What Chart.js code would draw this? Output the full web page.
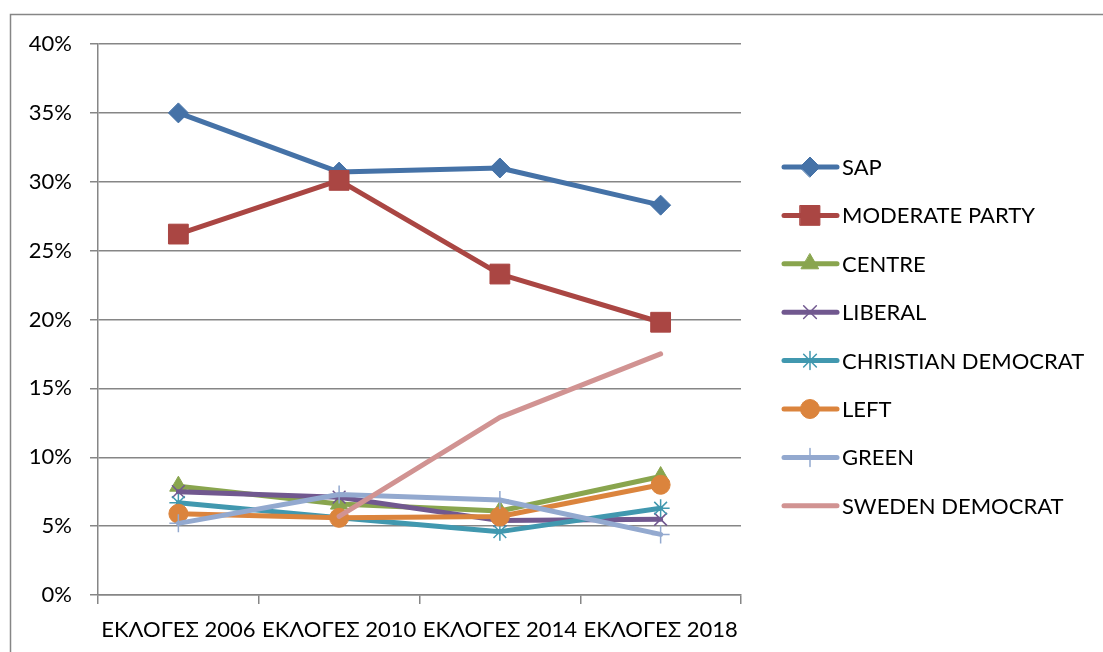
<!DOCTYPE html>
<html>
<head>
<meta charset="utf-8">
<script src="https://cdn.jsdelivr.net/npm/chart.js@4.4.0/dist/chart.umd.min.js"></script>
<style>
  html, body { margin: 0; padding: 0; background: #fff; }
  #wrap { width: 1103px; height: 652px; }
</style>
</head>
<body>
<div id="wrap"><canvas id="vote-chart" width="1103" height="652"></canvas></div>
<script>
// Swedish election results, % of vote
const categories = ['ΕΚΛΟΓΕΣ 2006', 'ΕΚΛΟΓΕΣ 2010', 'ΕΚΛΟΓΕΣ 2014', 'ΕΚΛΟΓΕΣ 2018'];
const sap = [35.0, 30.7, 31.0, 28.3];
const moderate = [26.2, 30.1, 23.3, 19.8];
const centre = [7.9, 6.6, 6.1, 8.6];
const liberal = [7.5, 7.1, 5.4, 5.5];
const christianDemocrat = [6.7, 5.6, 4.6, 6.3];
const left = [5.9, 5.6, 5.7, 8.0];
const green = [5.2, 7.3, 6.9, 4.4];
const swedenDemocrat = [null, 5.7, 12.9, 17.5];
const yTicks = [0, 5, 10, 15, 20, 25, 30, 35, 40];

const FONT = "Lato, 'Open Sans', sans-serif";
const FONT_SIZE = 22;
const GRID = '#868686';

function series(label, data, color, style, radius, bw) {
  return {
    label: label,
    data: data,
    borderColor: color,
    backgroundColor: color,
    borderWidth: 5,
    borderCapStyle: 'round',
    borderJoinStyle: 'round',
    pointStyle: style,
    pointRadius: style ? radius : 0,
    pointBorderWidth: bw,
    pointBackgroundColor: color,
    pointBorderColor: color,
    tension: 0,
    fill: false
  };
}

const datasets = [
  series('SAP', sap, '#4572A7', 'rectRot', 10, 1),
  series('MODERATE PARTY', moderate, '#AA4643', 'rect', 14, 1),
  series('CENTRE', centre, '#89A54E', 'triangle', 10, 1),
  series('LIBERAL', liberal, '#71588F', 'crossRot', 9, 1.5),
  series('CHRISTIAN DEMOCRAT', christianDemocrat, '#4198AF', 'star', 9, 1.5),
  series('LEFT', left, '#DB843D', 'circle', 9.5, 1),
  series('GREEN', green, '#93A9CF', 'cross', 9, 1.5),
  series('SWEDEN DEMOCRAT', swedenDemocrat, '#D19392', false, 0, 0)
];
// later series painted on top
datasets.forEach((d, i) => { d.order = datasets.length - i; });

// outer frame + legend drawn by hand (line + marker samples like the original)
const frameAndLegend = {
  id: 'frameAndLegend',
  afterDraw(chart) {
    const ctx = chart.ctx;
    ctx.save();
    ctx.strokeStyle = GRID;
    ctx.lineWidth = 1.5;
    ctx.beginPath();
    ctx.moveTo(10.5, 652);
    ctx.lineTo(10.5, 14.5);
    ctx.lineTo(1103, 14.5);
    ctx.stroke();

    datasets.forEach((ds, i) => {
      const y = 167 + i * 48.4;
      ctx.strokeStyle = ds.borderColor;
      ctx.lineWidth = 5;
      ctx.lineCap = 'round';
      ctx.beginPath();
      ctx.moveTo(784, y);
      ctx.lineTo(837, y);
      ctx.stroke();
      if (ds.pointStyle) {
        ctx.fillStyle = ds.pointBackgroundColor;
        ctx.strokeStyle = ds.pointBorderColor;
        ctx.lineWidth = ds.pointBorderWidth;
        Chart.helpers.drawPoint(ctx, {
          pointStyle: ds.pointStyle,
          radius: ds.pointRadius,
          borderWidth: ds.pointBorderWidth,
          rotation: 0
        }, 810, y);
      }
      ctx.fillStyle = '#000';
      ctx.font = FONT_SIZE + 'px ' + FONT;
      ctx.textBaseline = 'middle';
      ctx.textAlign = 'left';
      ctx.fillText(ds.label, 842, y + 1);
    });
    ctx.restore();
  }
};

const ctx = document.getElementById('vote-chart').getContext('2d');
new Chart(ctx, {
  type: 'line',
  data: { labels: categories, datasets: datasets },
  plugins: [frameAndLegend],
  options: {
    responsive: false,
    animation: false,
    layout: { padding: { left: 0, top: 44, right: 362, bottom: 0 } },
    scales: {
      x: {
        type: 'category',
        offset: true,
        grid: {
          offset: true,
          drawOnChartArea: false,
          drawTicks: true,
          tickLength: 9,
          color: GRID,
          lineWidth: 1.5
        },
        border: { color: GRID, width: 1.5 },
        ticks: {
          font: { family: FONT, size: FONT_SIZE },
          color: '#000',
          padding: 13,
          maxRotation: 0,
          autoSkip: false
        },
        afterFit: function(scale) { scale.height = 57; }
      },
      y: {
        min: yTicks[0],
        max: yTicks[yTicks.length - 1],
        afterBuildTicks: function(scale) {
          scale.ticks = yTicks.map(v => ({ value: v }));
        },
        ticks: {
          font: { family: FONT, size: FONT_SIZE },
          color: '#000',
          padding: 18,
          callback: function(value) { return value + '%'; }
        },
        grid: { color: GRID, lineWidth: 1.5, tickLength: 8 },
        border: { color: GRID, width: 1.5 },
        afterFit: function(scale) { scale.width = 98; }
      }
    },
    plugins: {
      legend: { display: false },
      tooltip: { enabled: false }
    }
  }
});
</script>
</body>
</html>
